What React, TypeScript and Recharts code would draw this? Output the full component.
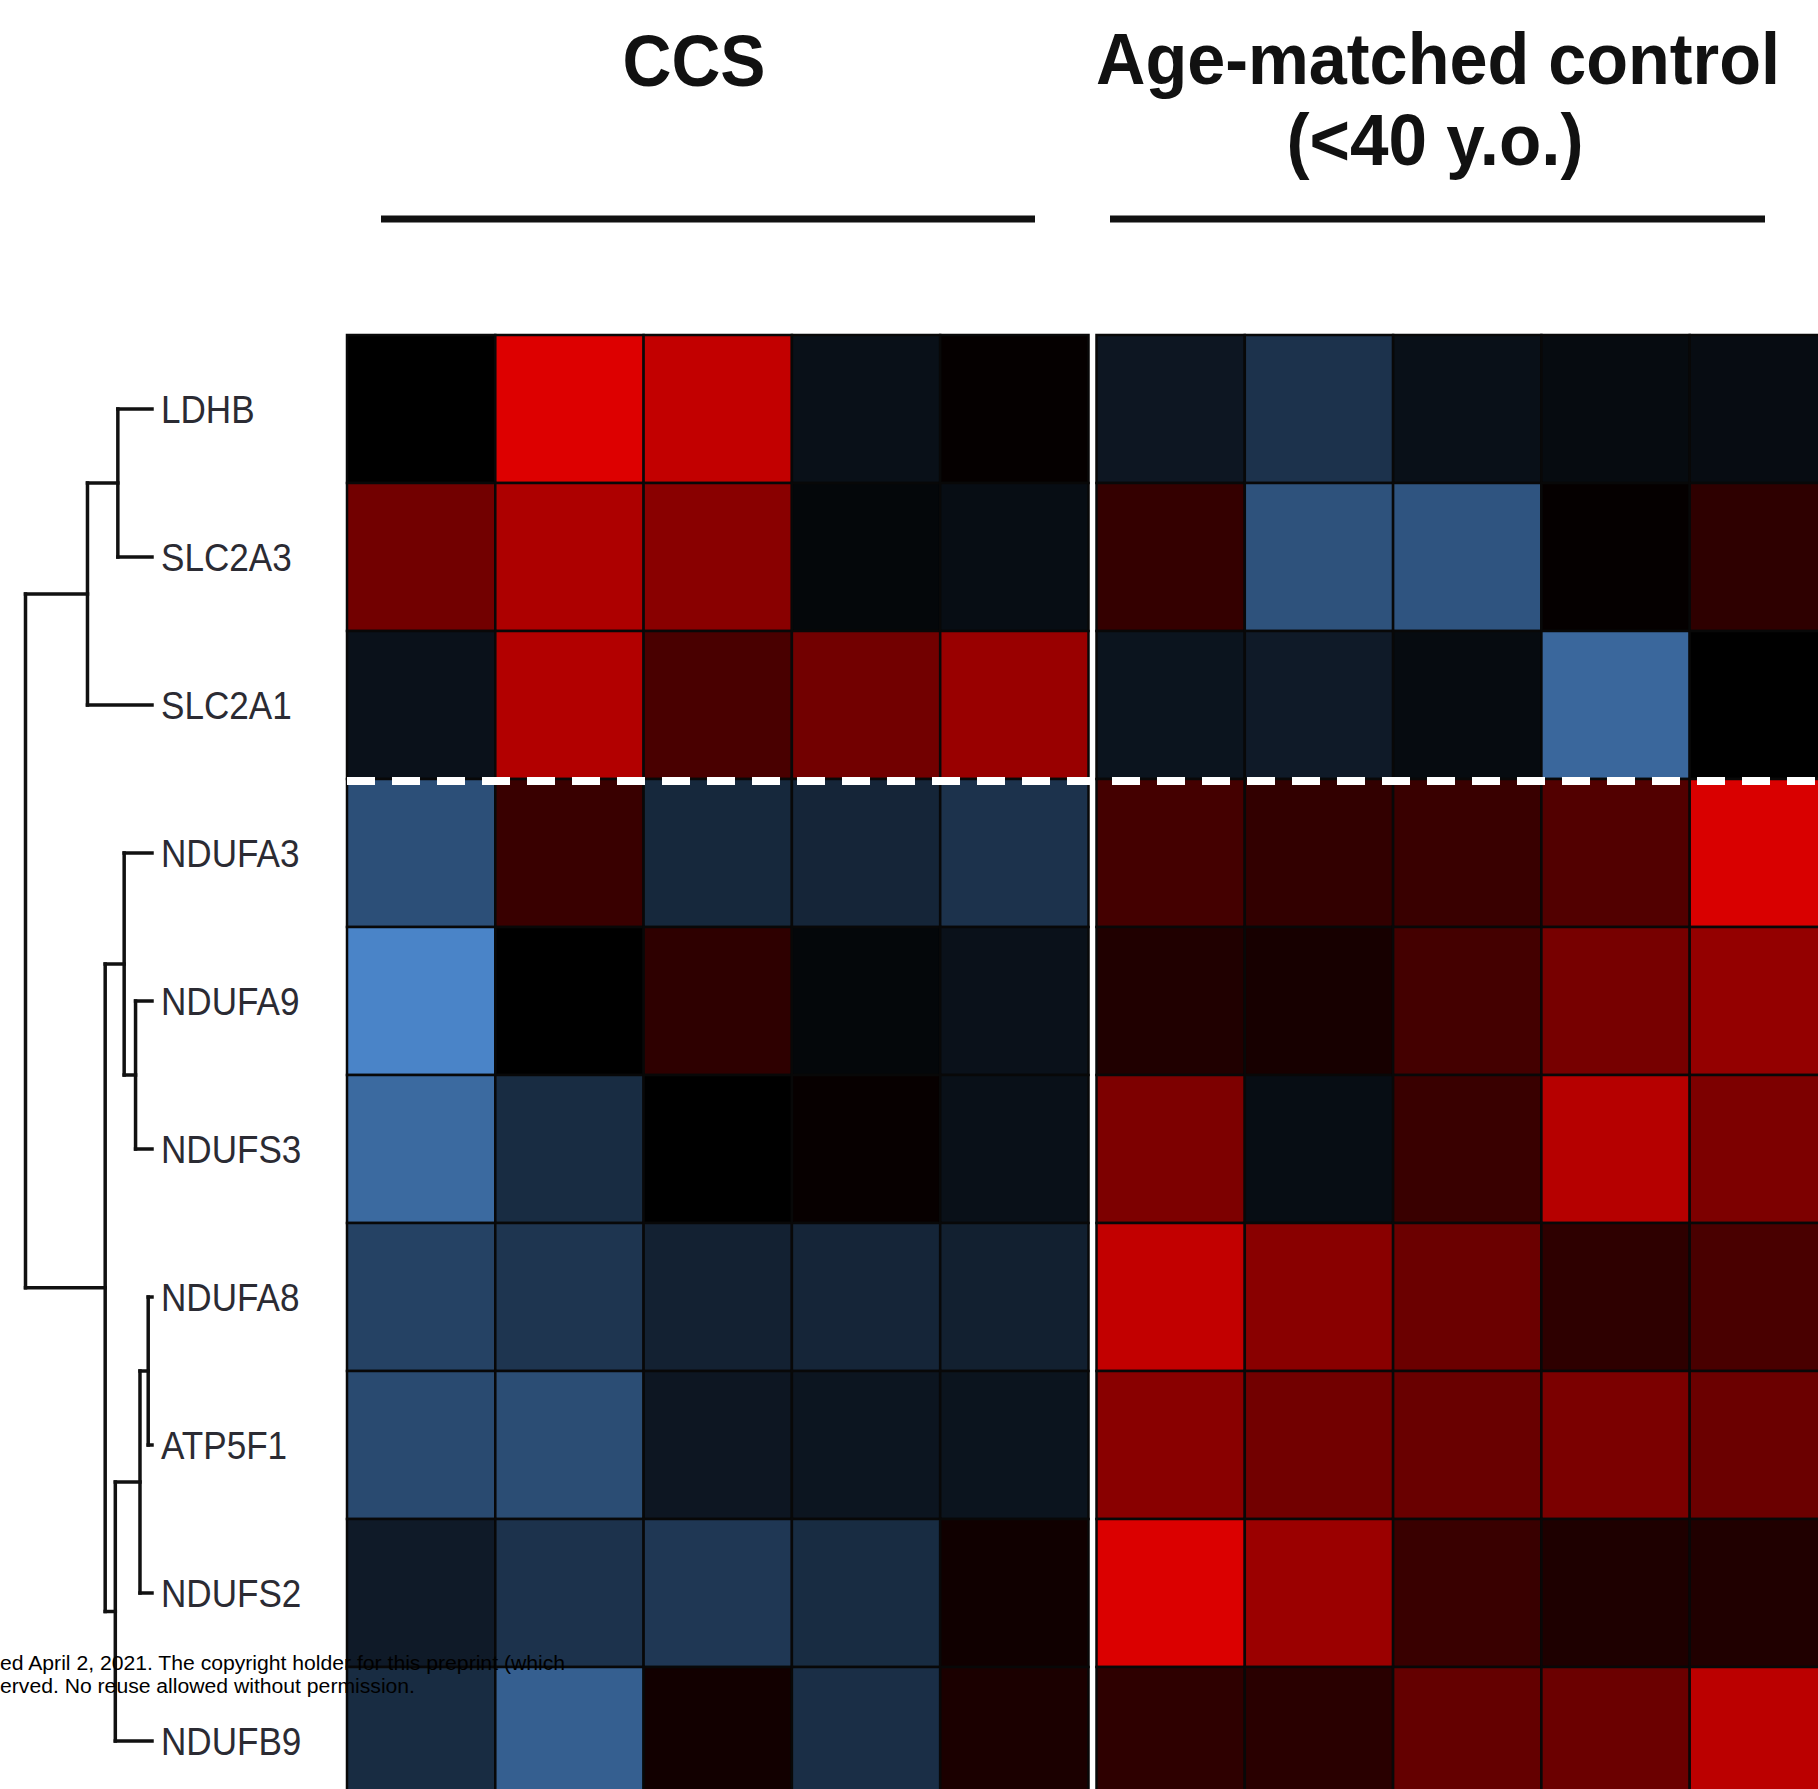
import React from 'react';
import { ScatterChart, Scatter, XAxis, YAxis, ReferenceLine } from 'recharts';

const GENES = ['LDHB', 'SLC2A3', 'SLC2A1', 'NDUFA3', 'NDUFA9', 'NDUFS3', 'NDUFA8', 'ATP5F1', 'NDUFS2', 'NDUFB9'];

const GROUP_TITLES = ['CCS', 'Age-matched control', '(<40 y.o.)'];

// row-scaled expression, -1 = lowest (blue), +1 = highest (red)
const CCS_VALUES = [
    [0.0, 0.97, 0.85, -0.12, 0.02],
    [0.5, 0.76, 0.6, -0.05, -0.1],
    [-0.13, 0.78, 0.32, 0.5, 0.67],
    [-0.6, 0.25, -0.3, -0.28, -0.38],
    [-1.0, 0.0, 0.2, -0.05, -0.13],
    [-0.8, -0.33, 0.0, 0.03, -0.12],
    [-0.5, -0.4, -0.25, -0.28, -0.24],
    [-0.56, -0.58, -0.17, -0.16, -0.15],
    [-0.2, -0.38, -0.42, -0.33, 0.07],
    [-0.33, -0.72, 0.08, -0.35, 0.12],
];

const CONTROL_VALUES = [
    [-0.17, -0.38, -0.12, -0.08, -0.09],
    [0.23, -0.62, -0.64, 0.02, 0.2],
    [-0.15, -0.2, -0.08, -0.78, 0.0],
    [0.3, 0.22, 0.25, 0.36, 0.95],
    [0.14, 0.1, 0.3, 0.52, 0.65],
    [0.55, -0.1, 0.25, 0.8, 0.55],
    [0.85, 0.6, 0.47, 0.2, 0.32],
    [0.6, 0.5, 0.46, 0.54, 0.47],
    [0.96, 0.68, 0.25, 0.13, 0.14],
    [0.2, 0.18, 0.44, 0.47, 0.82],
];

// gene clustering: numbers are gene rows, strings refer to earlier merges
const MERGES = [
    { id: 'm0', a: 0, b: 1, height: 0.27 },
    { id: 'm1', a: 'm0', b: 2, height: 0.51 },
    { id: 'm2', a: 4, b: 5, height: 0.13 },
    { id: 'm3', a: 3, b: 'm2', height: 0.22 },
    { id: 'm4', a: 6, b: 7, height: 0.03 },
    { id: 'm5', a: 'm4', b: 8, height: 0.095 },
    { id: 'm6', a: 'm5', b: 9, height: 0.29 },
    { id: 'm7', a: 'm3', b: 'm6', height: 0.37 },
    { id: 'm8', a: 'm1', b: 'm7', height: 1.0 },
];

// the first three genes are split from the rest by a dashed line
const SPLIT_AFTER = 3;

const W = 1818;
const H = 1789;
const CELL_W = 148.3;
const CELL_H = 148;
const HEAT_LEFT = 347;
const HEAT_TOP = 335;
const GROUP_GAP = 8;
const X_MIN = -HEAT_LEFT / CELL_W;
const X_MAX = (W - HEAT_LEFT) / CELL_W;
const Y_MIN = -HEAT_TOP / CELL_H;
const Y_MAX = (H - HEAT_TOP) / CELL_H;
const LEAF_TIP = 152;
const DENDRO_SCALE = 126.5;
const LABEL_X = 161;

const pxToX = (px: number) => X_MIN + px / CELL_W;

const heatColor = (v: number) => {
    if (v >= 0) return `rgb(${Math.round(228 * v)},0,0)`;
    const t = -v;
    return `rgb(${Math.round(74 * t)},${Math.round(132 * t)},${Math.round(200 * t)})`;
};

const cells = GENES.flatMap((gene, r) =>
    [...CCS_VALUES[r], ...CONTROL_VALUES[r]].map((v, c) => ({
        gene, x: c + 0.5, y: r + 0.5, v, group: c < CCS_VALUES[r].length ? 0 : 1,
    }))
);

const labels = GENES.map((gene, r) => ({ gene, x: pxToX(LABEL_X), y: r + 0.5 }));

const splitLine = [{ x: 0, y: SPLIT_AFTER }];

// dendrogram segments in data coordinates
const buildDendrogram = () => {
    const pos: Record<string, { x: number; y: number }> = {};
    const get = (k: number | string) =>
        typeof k === 'number' ? { x: pxToX(LEAF_TIP), y: k + 0.5 } : pos[k];
    const segs: { x: number; y: number }[][] = [];
    MERGES.forEach((m) => {
        const a = get(m.a);
        const b = get(m.b);
        const x = pxToX(LEAF_TIP - m.height * DENDRO_SCALE);
        segs.push([{ x, y: a.y }, { x, y: b.y }]);
        segs.push([{ x, y: a.y }, { x: a.x, y: a.y }]);
        segs.push([{ x, y: b.y }, { x: b.x, y: b.y }]);
        pos[m.id] = { x, y: (a.y + b.y) / 2 };
    });
    return segs;
};
const dendroSegments = buildDendrogram();

const HeatCell = (props: any) => {
    const { cx, cy, payload } = props;
    const left = cx - CELL_W / 2 + (payload.group ? GROUP_GAP : 0);
    return (
        <rect
            x={left}
            y={cy - CELL_H / 2}
            width={CELL_W}
            height={CELL_H}
            fill={heatColor(payload.v)}
            stroke="#080808"
            strokeWidth={2.5}
        />
    );
};

const GeneLabel = (props: any) => {
    const { cx, cy, payload } = props;
    return (
        <text
            transform={`translate(${cx},${cy}) scale(0.9,1)`}
            dy="0.36em"
            fontFamily="'Liberation Sans', Arial, sans-serif"
            fontSize={39}
            fill="#2b2b33"
        >
            {payload.gene}
        </text>
    );
};

const SplitLine = (props: any) => {
    const { cx, cy } = props;
    return <line x1={cx} x2={W} y1={cy + 2} y2={cy + 2} stroke="#fff" strokeWidth={8} strokeDasharray="28 17" />;
};

const titleStyle = {
    fontFamily: "'Liberation Sans', Arial, sans-serif",
    fontWeight: 700,
    fill: '#111',
};

export default function App() {
    return (
        <div style={{ position: 'absolute', left: 0, top: 0, width: W, height: H, background: '#fff' }}>
            <ScatterChart width={W} height={H} margin={{ top: 0, right: 0, bottom: 0, left: 0 }}>
                <XAxis type="number" dataKey="x" domain={[X_MIN, X_MAX]} allowDataOverflow hide />
                <YAxis type="number" dataKey="y" domain={[Y_MIN, Y_MAX]} allowDataOverflow reversed hide />
                <Scatter data={cells} shape={<HeatCell />} isAnimationActive={false} />
                <Scatter data={splitLine} shape={<SplitLine />} isAnimationActive={false} />
                <Scatter data={labels} shape={<GeneLabel />} isAnimationActive={false} />
                {dendroSegments.map((s, i) => (
                    <ReferenceLine key={i} segment={s} stroke="#111" strokeWidth={3.5} strokeLinecap="square" />
                ))}
            </ScatterChart>
            <svg
                width={W}
                height={H}
                style={{ position: 'absolute', left: 0, top: 0, pointerEvents: 'none' }}
            >
                <text x={694} y={86} textAnchor="middle" fontSize={72} textLength={143} lengthAdjust="spacingAndGlyphs" style={titleStyle}>
                    {GROUP_TITLES[0]}
                </text>
                <text x={1438} y={84} textAnchor="middle" fontSize={72} textLength={684} lengthAdjust="spacingAndGlyphs" style={titleStyle}>
                    {GROUP_TITLES[1]}
                </text>
                <text x={1435} y={165} textAnchor="middle" fontSize={72} textLength={297} lengthAdjust="spacingAndGlyphs" style={titleStyle}>
                    {GROUP_TITLES[2]}
                </text>
                <line x1={381} x2={1035} y1={219} y2={219} stroke="#111" strokeWidth={7} />
                <line x1={1110} x2={1765} y1={219} y2={219} stroke="#111" strokeWidth={7} />
                <g fontFamily="'Liberation Sans', Arial, sans-serif" fontSize={20} fill="#000">
                    <text x={0} y={1670} textLength={565} lengthAdjust="spacingAndGlyphs">
                        ed April 2, 2021. The copyright holder for this preprint (which
                    </text>
                    <text x={0} y={1693} textLength={415} lengthAdjust="spacingAndGlyphs">
                        erved. No reuse allowed without permission.
                    </text>
                </g>
            </svg>
        </div>
    );
}
